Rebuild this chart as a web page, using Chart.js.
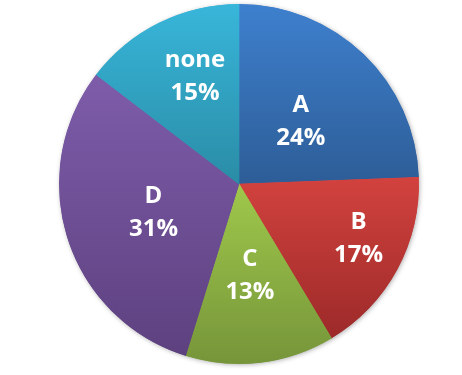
<!DOCTYPE html>
<html>
<head>
<meta charset="utf-8">
<script src="https://cdn.jsdelivr.net/npm/chart.js@4"></script>
<style>
  body { margin: 0; background: #fff; }
  canvas { display: block; }
</style>
</head>
<body>
<canvas id="pie" width="462" height="375"></canvas>
<script>
// Data (labels show the rounded percent)
const categories = ['A', 'B', 'C', 'D', 'none'];
const shares = [24.4, 17.0, 13.4, 30.6, 14.6];

// light (top) / dark (bottom) of each slice's gradient
const topColors = ['#3e80ce', '#d2423e', '#9fc84b', '#7e5caa', '#38b6da'];
const bottomColors = ['#2d5d97', '#9c2a29', '#76953a', '#5d417f', '#2a8ca6'];

// label placement: fraction of radius and small angle nudge (degrees)
const labelRadius = [0.49, 0.73, 0.51, 0.5, 0.645];
const labelNudge = [0.5, -4, 0, -0.5, 4];

const total = shares.reduce((a, b) => a + b, 0);

function pieGeometry(chart) {
  const area = chart.chartArea;
  return {
    cx: (area.left + area.right) / 2,
    cy: (area.top + area.bottom) / 2,
    r: Math.min(area.right - area.left, area.bottom - area.top) / 2
  };
}

function sliceAngles(i) {
  let before = 0;
  for (let k = 0; k < i; k++) before += shares[k];
  const start = -Math.PI / 2 + before / total * Math.PI * 2;
  const end = start + shares[i] / total * Math.PI * 2;
  return { start, end };
}

// vertical extent of a slice so its gradient spans its own height
function sliceYRange(i, g) {
  const { start, end } = sliceAngles(i);
  const ys = [g.cy, g.cy + g.r * Math.sin(start), g.cy + g.r * Math.sin(end)];
  [-Math.PI / 2, Math.PI / 2, Math.PI * 1.5].forEach(a => {
    if (a > start && a < end) ys.push(g.cy + g.r * Math.sin(a));
  });
  return { min: Math.min(...ys), max: Math.max(...ys) };
}

function sliceFill(context) {
  const chart = context.chart;
  if (!chart.chartArea) return topColors[context.dataIndex];
  const i = context.dataIndex;
  const g = pieGeometry(chart);
  const yr = sliceYRange(i, g);
  const grad = chart.ctx.createLinearGradient(0, yr.min, 0, yr.max);
  grad.addColorStop(0, topColors[i]);
  grad.addColorStop(1, bottomColors[i]);
  return grad;
}

// soft shadow behind the pie
const shadowPlugin = {
  id: 'pieShadow',
  beforeDatasetsDraw(chart) {
    const g = pieGeometry(chart);
    const ctx = chart.ctx;
    ctx.save();
    ctx.shadowColor = 'rgba(0,0,0,0.35)';
    ctx.shadowBlur = 5;
    ctx.shadowOffsetX = 1;
    ctx.shadowOffsetY = 1;
    ctx.fillStyle = '#ffffff';
    ctx.beginPath();
    ctx.arc(g.cx, g.cy, g.r - 0.5, 0, Math.PI * 2);
    ctx.fill();
    ctx.restore();
  }
};

// category name + percent inside each slice
const labelPlugin = {
  id: 'sliceLabels',
  afterDatasetsDraw(chart) {
    const g = pieGeometry(chart);
    const ctx = chart.ctx;
    ctx.save();
    ctx.fillStyle = '#ffffff';
    ctx.font = 'bold 24px "Open Sans", sans-serif';
    ctx.textAlign = 'center';
    ctx.textBaseline = 'middle';
    categories.forEach((name, i) => {
      const { start, end } = sliceAngles(i);
      const mid = (start + end) / 2 + labelNudge[i] * Math.PI / 180;
      const x = g.cx + Math.cos(mid) * g.r * labelRadius[i];
      const y = g.cy + Math.sin(mid) * g.r * labelRadius[i];
      ctx.fillText(name, x, y - 16);
      ctx.fillText(Math.round(shares[i] / total * 100) + '%', x, y + 17);
    });
    ctx.restore();
  }
};

new Chart(document.getElementById('pie'), {
  type: 'pie',
  plugins: [shadowPlugin, labelPlugin],
  data: {
    labels: categories,
    datasets: [{
      data: shares,
      backgroundColor: sliceFill,
      // border in the slice's own fill hides the antialias seams
      borderColor: sliceFill,
      borderWidth: 1,
      borderAlign: 'inner'
    }]
  },
  options: {
    responsive: false,
    animation: false,
    layout: {
      padding: { top: 4, bottom: 11, left: 16, right: 0 }
    },
    plugins: {
      legend: { display: false },
      tooltip: { enabled: false }
    }
  }
});
</script>
</body>
</html>
